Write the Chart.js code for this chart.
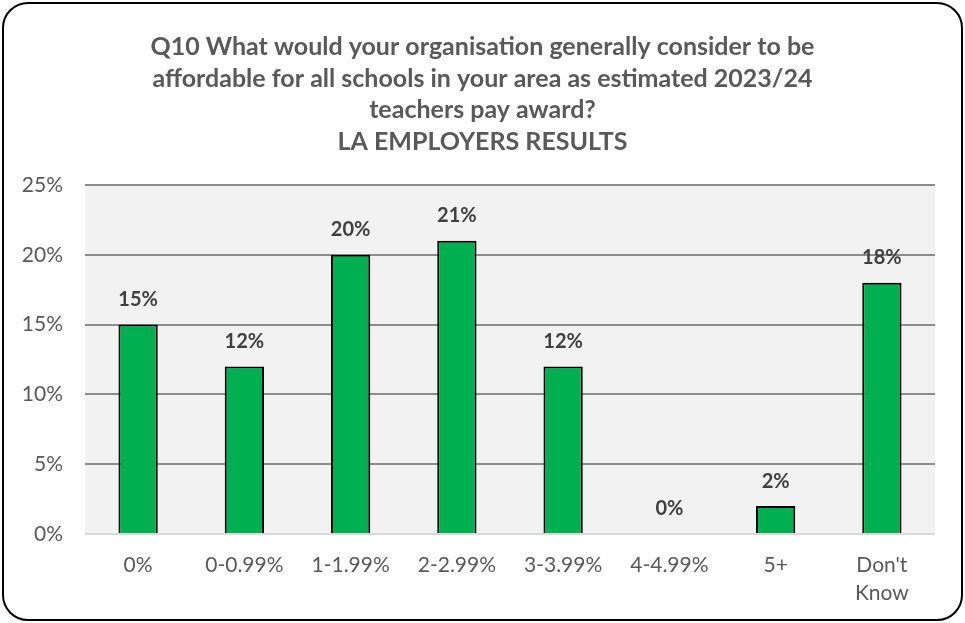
<!DOCTYPE html>
<html>
<head>
<meta charset="utf-8">
<script src="https://cdn.jsdelivr.net/npm/chart.js@4/dist/chart.umd.min.js"></script>
<style>
  html, body { margin: 0; padding: 0; background: #ffffff; }
  #wrap { position: relative; width: 965px; height: 623px; }
  #chart { position: absolute; left: 0; top: 0; }
  #frame {
    position: absolute; left: 2px; top: 2px; width: 957px; height: 615px;
    border: 2px solid #000000; border-radius: 26px; pointer-events: none;
  }
</style>
</head>
<body>
<div id="wrap">
  <canvas id="chart" width="965" height="623"></canvas>
  <div id="frame"></div>
</div>
<script>
// Answer bands and share of LA employers choosing each one (%)
const categories = ['0%', '0-0.99%', '1-1.99%', '2-2.99%', '3-3.99%', '4-4.99%', '5+', ["Don't", 'Know']];
const shares = [15, 12, 20, 21, 12, 0, 2, 18];
const yTicks = [0, 5, 10, 15, 20, 25];
const titleLines = [
  'Q10 What would your organisation generally consider to be',
  'affordable for all schools in your area as estimated 2023/24',
  'teachers pay award?',
  'LA EMPLOYERS RESULTS'
];

const FONT = "Lato, 'Open Sans', 'Liberation Sans', sans-serif";

// Light grey fill behind the plotting area
const plotBackground = {
  id: 'plotBackground',
  beforeDraw(chart) {
    const { ctx, chartArea: a } = chart;
    ctx.save();
    ctx.fillStyle = '#f2f2f2';
    ctx.fillRect(a.left, a.top, a.right - a.left, a.bottom - a.top);
    ctx.restore();
  }
};

// Four-line heading centred across the whole canvas
const centredTitle = {
  id: 'centredTitle',
  afterDraw(chart) {
    const { ctx, width } = chart;
    ctx.save();
    ctx.font = 'bold 25px ' + FONT;
    ctx.fillStyle = '#595959';
    ctx.textAlign = 'center';
    ctx.textBaseline = 'middle';
    titleLines.forEach((line, i) => {
      ctx.fillText(line, width / 2, 47 + i * 31.7);
    });
    ctx.restore();
  }
};

// Percentage label above each bar
const valueLabels = {
  id: 'valueLabels',
  afterDatasetsDraw(chart) {
    const { ctx } = chart;
    const meta = chart.getDatasetMeta(0);
    ctx.save();
    ctx.font = 'bold 20px ' + FONT;
    ctx.fillStyle = '#404040';
    ctx.textAlign = 'center';
    ctx.textBaseline = 'middle';
    meta.data.forEach((bar, i) => {
      ctx.fillText(shares[i] + '%', bar.x, bar.y - 25);
    });
    ctx.restore();
  }
};

new Chart(document.getElementById('chart'), {
  type: 'bar',
  data: {
    labels: categories,
    datasets: [{
      data: shares,
      backgroundColor: '#00b050',
      borderColor: '#000000',
      borderWidth: 2,
      borderSkipped: 'bottom',
      categoryPercentage: 1,
      barPercentage: 0.37
    }]
  },
  options: {
    responsive: false,
    animation: false,
    layout: { padding: { top: 185, left: 6, right: 30, bottom: 8 } },
    plugins: {
      legend: { display: false },
      tooltip: { enabled: false },
      title: { display: false }
    },
    scales: {
      x: {
        grid: { display: false },
        border: { display: false },
        ticks: {
          color: '#595959',
          font: { family: FONT, size: 21, lineHeight: 1.3 },
          padding: 10,
          maxRotation: 0,
          autoSkip: false
        },
        afterFit(scale) { scale.height = 81; }
      },
      y: {
        min: 0,
        max: 25,
        afterBuildTicks(scale) { scale.ticks = yTicks.map(v => ({ value: v })); },
        grid: {
          drawTicks: false,
          color: ctx => (ctx.tick && ctx.tick.value === 0 ? '#d9d9d9' : '#8c8c8c'),
          lineWidth: 2
        },
        border: { display: false },
        ticks: {
          color: '#595959',
          font: { family: FONT, size: 21 },
          padding: 22,
          callback: v => v + '%'
        },
        afterFit(scale) { scale.width = 79; }
      }
    }
  },
  plugins: [plotBackground, centredTitle, valueLabels]
});
</script>
</body>
</html>
